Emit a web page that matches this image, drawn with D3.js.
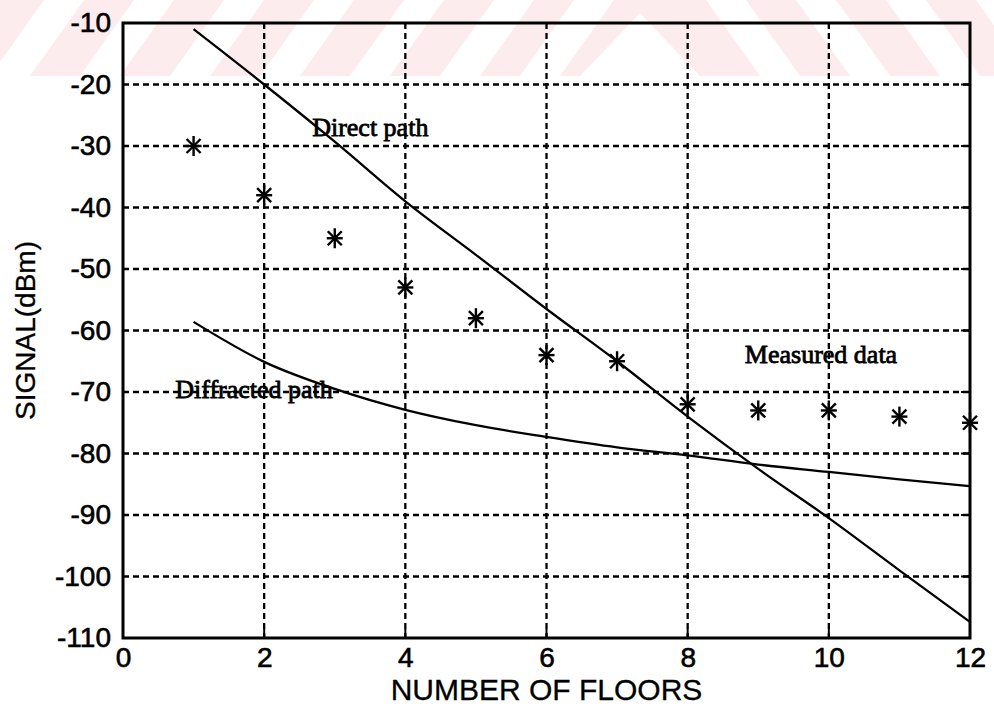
<!DOCTYPE html>
<html>
<head>
<meta charset="utf-8">
<script src="https://cdn.jsdelivr.net/npm/d3@7"></script>
<style>
  html, body { margin: 0; padding: 0; background: #fff; }
  svg { display: block; }
</style>
</head>
<body>
<svg id="chart" width="994" height="709"></svg>
<script>
// Signal level versus number of floors
const floors = [1, 2, 3, 4, 5, 6, 7, 8, 9, 10, 11, 12];
const measuredData = [-30, -38, -45, -53, -58, -64, -65, -72, -73, -73, -74, -75];
const directPath = [-11, -20, -29.3, -39, -47.7, -56.5, -65, -74, -82.5, -90.5, -99, -107.4];
const diffractedPath = [-58.6, -65.1, -69.5, -72.9, -75.4, -77.3, -79, -80.3, -81.8, -83, -84.2, -85.3];
const xTicks = [0, 2, 4, 6, 8, 10, 12];
const yTicks = [-110, -100, -90, -80, -70, -60, -50, -40, -30, -20, -10];
const annotations = [
  { text: "Direct path", x: 2.68, y: -28.4 },
  { text: "Measured data", x: 8.81, y: -65.3 },
  { text: "Diffracted path", x: 0.74, y: -71.0 }
];

const svg = d3.select("#chart");
const W = 994, H = 709;
const plot = { left: 123, right: 970, top: 23, bottom: 638 };

svg.append("rect").attr("width", W).attr("height", H).attr("fill", "#fff");

// faint pink banner across the top strip, cut by white diagonal stripes
const bandH = 76, shift = 54, stripeW = 40;
const banner = svg.append("g");
banner.append("rect").attr("x", 0).attr("y", 0).attr("width", W).attr("height", bandH)
  .attr("fill", "#fdecee");
const poly = pts => pts.map(p => p.join(",")).join(" ");
[-10, 80, 170, 260, 350, 440, 520].forEach(b => {
  banner.append("polygon").attr("fill", "#fff").attr("points", poly([
    [b, bandH], [b + stripeW, bandH], [b + stripeW + shift, 0], [b + shift, 0]
  ]));
});
[760, 850, 940, 1030].forEach(b => {
  banner.append("polygon").attr("fill", "#fff").attr("points", poly([
    [b, bandH], [b + stripeW, bandH], [b + stripeW - shift, 0], [b - shift, 0]
  ]));
});
banner.append("polygon").attr("fill", "#fff").attr("points", poly([
  [640, 13], [700, bandH], [580, bandH]
]));

const x = d3.scaleLinear().domain([0, 12]).range([plot.left, plot.right]);
const y = d3.scaleLinear().domain([-110, -10]).range([plot.bottom, plot.top]);

// dashed grid
const grid = svg.append("g").attr("stroke", "#000").attr("stroke-width", 2.3)
  .attr("stroke-dasharray", "6,4").attr("fill", "none");
grid.selectAll("line.gx").data(xTicks.filter(t => t > 0 && t < 12)).join("line")
  .attr("x1", d => x(d)).attr("x2", d => x(d))
  .attr("y1", plot.top).attr("y2", plot.bottom);
grid.selectAll("line.gy").data(yTicks.filter(t => t > -110 && t < -10)).join("line")
  .attr("y1", d => y(d)).attr("y2", d => y(d))
  .attr("x1", plot.left).attr("x2", plot.right);

// axes
const fontSans = "'Liberation Sans', Arial, Helvetica, sans-serif";
const fmt = d => String(d);
const xAxis = svg.append("g").attr("transform", `translate(0,${plot.bottom})`)
  .call(d3.axisBottom(x).tickValues(xTicks).tickSize(0).tickPadding(12).tickFormat(fmt));
const yAxis = svg.append("g").attr("transform", `translate(${plot.left},0)`)
  .call(d3.axisLeft(y).tickValues(yTicks).tickSize(0).tickPadding(12).tickFormat(fmt));
[xAxis, yAxis].forEach(a => {
  a.select(".domain").remove();
  a.selectAll("text").attr("font-family", fontSans).attr("font-size", 28)
    .attr("fill", "#000").attr("stroke", "#000").attr("stroke-width", 0.6);
});
xAxis.selectAll("text").attr("dy", "0.72em").attr("y", 9);

// inward tick marks on bottom and right edges
const ticks = svg.append("g").attr("stroke", "#000").attr("stroke-width", 2);
ticks.selectAll("line.tb").data(xTicks.filter(t => t > 0 && t < 12)).join("line")
  .attr("x1", d => x(d)).attr("x2", d => x(d))
  .attr("y1", plot.bottom).attr("y2", plot.bottom - 9);
ticks.selectAll("line.tr").data(yTicks.filter(t => t > -110 && t < -10)).join("line")
  .attr("y1", d => y(d)).attr("y2", d => y(d))
  .attr("x1", plot.right).attr("x2", plot.right - 9);

// frame
svg.append("rect")
  .attr("x", plot.left).attr("y", plot.top)
  .attr("width", plot.right - plot.left).attr("height", plot.bottom - plot.top)
  .attr("fill", "none").attr("stroke", "#000").attr("stroke-width", 3);

// model curves
const line = d3.line().x((d, i) => x(floors[i])).y(d => y(d)).curve(d3.curveMonotoneX);
[directPath, diffractedPath].forEach(series => {
  svg.append("path").datum(series).attr("d", line)
    .attr("fill", "none").attr("stroke", "#000").attr("stroke-width", 2.3);
});

// measured points as asterisks
const star = svg.append("g").attr("stroke", "#000").attr("stroke-width", 2.4);
const pts = floors.map((f, i) => ({ f, v: measuredData[i] }));
const arms = [[0, 10], [8, 0], [7, 7], [7, -7]];
pts.forEach(p => {
  const cx = x(p.f), cy = y(p.v);
  arms.forEach(([ax, ay]) => {
    star.append("line")
      .attr("x1", cx - ax).attr("y1", cy - ay)
      .attr("x2", cx + ax).attr("y2", cy + ay);
  });
});

// curve annotations
svg.append("g").selectAll("text").data(annotations).join("text")
  .attr("x", d => x(d.x)).attr("y", d => y(d.y))
  .attr("font-family", "'Liberation Serif', 'Times New Roman', serif")
  .attr("font-size", 26).attr("fill", "#000")
  .attr("stroke", "#000").attr("stroke-width", 0.8)
  .text(d => d.text);

// axis titles
svg.append("text")
  .attr("x", (plot.left + plot.right) / 2).attr("y", 700)
  .attr("text-anchor", "middle")
  .attr("font-family", fontSans).attr("font-size", 30).attr("fill", "#000")
  .attr("stroke", "#000").attr("stroke-width", 0.3)
  .text("NUMBER OF FLOORS");
svg.append("text")
  .attr("transform", `translate(35,${(plot.top + plot.bottom) / 2}) rotate(-90)`)
  .attr("text-anchor", "middle")
  .attr("font-family", fontSans).attr("font-size", 28).attr("fill", "#000")
  .attr("stroke", "#000").attr("stroke-width", 0.3)
  .text("SIGNAL(dBm)");
</script>
</body>
</html>
